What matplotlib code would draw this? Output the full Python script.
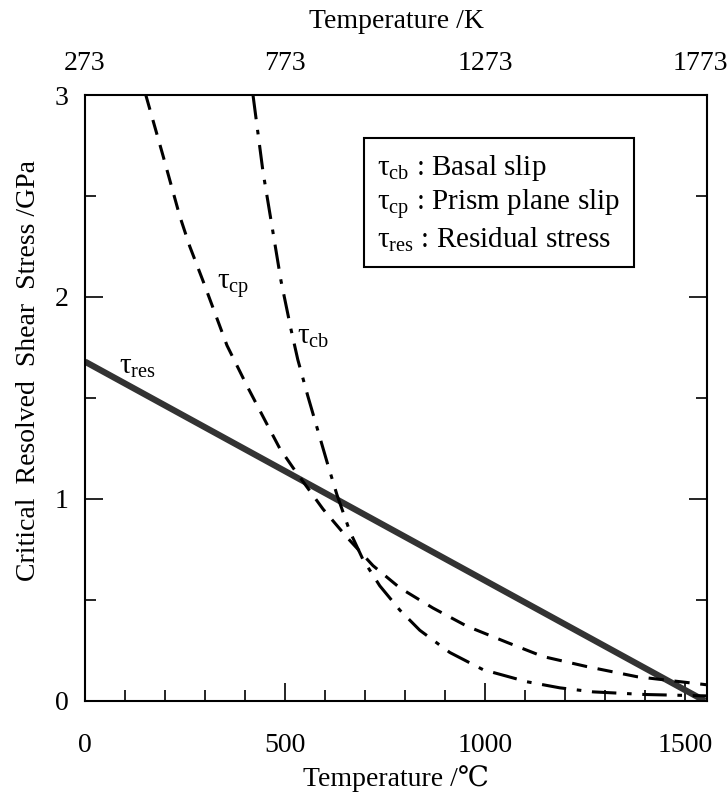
import numpy as np
import matplotlib
matplotlib.use('Agg')
import matplotlib.pyplot as plt
from matplotlib.ticker import MultipleLocator
import matplotlib.transforms as mtransforms

plt.rcParams['font.family'] = ['Liberation Serif', 'DejaVu Serif']
plt.rcParams['mathtext.fontset'] = 'custom'
plt.rcParams['mathtext.rm'] = 'Liberation Serif'
plt.rcParams['mathtext.it'] = 'Liberation Serif:italic'

# tau_res : Residual stress (gerade Linie)
t_res = [0, 1550]
tau_res = [1.68, 0.0]

# tau_cp : Prism plane slip (gestrichelt)
t_cp = [152, 195, 237, 262, 295, 355, 405, 455, 487, 520, 540, 595, 655, 720,
        787, 870, 955, 1055, 1145, 1255, 1380, 1555]
tau_cp = [3.0, 2.70, 2.40, 2.25, 2.08, 1.76, 1.56, 1.37, 1.25, 1.155, 1.10, 0.95,
          0.81, 0.67, 0.56, 0.46, 0.37, 0.29, 0.22, 0.17, 0.12, 0.08]

# tau_cb : Basal slip (strichpunktiert)
t_cb = [420, 445, 470, 490, 515, 532, 557, 582, 607, 630, 662, 695, 737, 787,
        837, 912, 995, 1105, 1187, 1270, 1400, 1555]
tau_cb = [3.0, 2.62, 2.32, 2.08, 1.84, 1.69, 1.51, 1.34, 1.17, 1.02, 0.84, 0.70,
          0.57, 0.45, 0.35, 0.24, 0.155, 0.095, 0.065, 0.045, 0.032, 0.025]

x_ticks = [0, 500, 1000, 1500]
k_labels = ['273', '773', '1273', '1773']

fig = plt.figure(figsize=(7.27, 7.97), dpi=100)
ax = fig.add_axes([0.1169, 0.1205, 0.8556, 0.7603])

ax.plot(t_res, tau_res, color='#333333', lw=4.5, solid_capstyle='butt')
ax.plot(t_cp, tau_cp, color='black', lw=2.2, dashes=(5, 3.5))
ax.plot(t_cb, tau_cb, color='black', lw=2.2, dashes=(8, 3.5, 1.5, 3.5))

ax.set_xlim(0, 1555)
ax.set_ylim(0, 3)

fs = 20
ax.set_xticks(x_ticks)
ax.xaxis.set_minor_locator(MultipleLocator(100))
ax.set_yticks([0, 1, 2, 3])
ax.yaxis.set_minor_locator(MultipleLocator(0.5))
ax.tick_params(which='both', direction='in', top=True, right=True, width=1.2,
               labelsize=fs, labeltop=False)
ax.tick_params(which='major', length=13)
ax.tick_params(which='minor', length=8)
ax.tick_params(axis='x', pad=23)
ax.tick_params(axis='y', pad=12)
for s in ax.spines.values():
    s.set_linewidth(1.5)

# obere Achse in Kelvin
ax2 = ax.twiny()
ax2.set_xlim(ax.get_xlim())
ax2.set_xticks(x_ticks)
ax2.set_xticklabels(k_labels)
ax2.tick_params(axis='x', length=0, labelsize=fs, pad=14)
for s in ax2.spines.values():
    s.set_visible(False)
lbl = ax2.get_xticklabels()[-1]
lbl.set_transform(lbl.get_transform() + mtransforms.ScaledTranslation(0.15, 0, fig.dpi_scale_trans))
ax2.set_xlabel('Temperature /K', fontsize=fs, labelpad=16)

ax.set_xlabel('Temperature /\u2103', fontsize=fs, labelpad=5)
ax.set_ylabel('Critical  Resolved  Shear  Stress /GPa', fontsize=fs)
ax.yaxis.set_label_coords(-0.07, 0.545)

# Kurvenbeschriftungen
fl = 21
ax.text(330, 2.04, '\u03c4$_{\\mathrm{cp}}$', fontsize=fl)
ax.text(530, 1.77, '\u03c4$_{\\mathrm{cb}}$', fontsize=fl)
ax.text(85, 1.62, '\u03c4$_{\\mathrm{res}}$', fontsize=fl)

legende = ('\u03c4$_{\\mathrm{cb}}$ : Basal slip\n'
           '\u03c4$_{\\mathrm{cp}}$ : Prism plane slip\n'
           '\u03c4$_{\\mathrm{res}}$ : Residual stress')
ax.text(0.47, 0.905, legende, transform=ax.transAxes, fontsize=fl, va='top',
        linespacing=1.2,
        bbox=dict(boxstyle='square,pad=0.45', fc='white', ec='black', lw=1.5))

fig.savefig('out.png', dpi=100)
